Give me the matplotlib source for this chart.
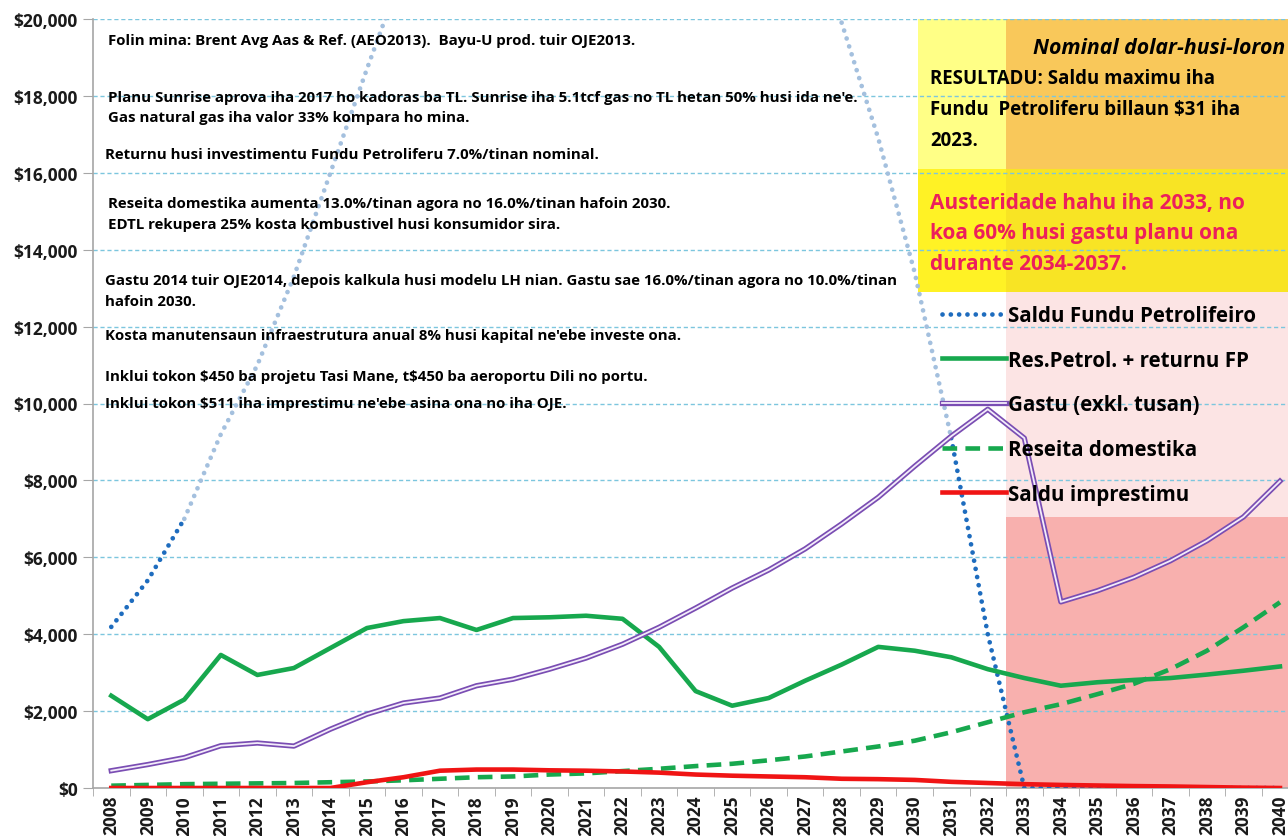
import matplotlib
matplotlib.use("Agg")
import matplotlib.pyplot as plt
import numpy as np
from matplotlib.patches import Rectangle
from matplotlib.lines import Line2D
from matplotlib.legend_handler import HandlerTuple
from matplotlib.ticker import FuncFormatter

plt.rcParams['font.family'] = ['Open Sans', 'DejaVu Sans']

# data (millions of nominal US$)
years = list(range(2008, 2041))
saldu_fp = [4190, 5400, 7000, 9200, 11000, 13300, 16000, 18700, 21300, 23800,
            26000, 27900, 29400, 30500, 31000, 31200, 30200, 28300, 25600, 22700,
            19900, 16900, 13400, 9100, 4000, 0, 0, 0, 0, 0, 0, 0, 0]
res_petrol = [2400, 1790, 2300, 3460, 2940, 3120, 3640, 4160, 4340, 4420,
              4110, 4420, 4440, 4480, 4400, 3670, 2520, 2140, 2340, 2790,
              3210, 3670, 3570, 3400, 3090, 2860, 2660, 2750, 2810, 2860,
              2950, 3050, 3160]
gastu = [450, 610, 790, 1100, 1170, 1090, 1530, 1920, 2210, 2340,
         2660, 2830, 3090, 3380, 3740, 4180, 4680, 5200, 5670, 6220,
         6870, 7560, 8370, 9150, 9850, 9100, 4840, 5130, 5480, 5910,
         6430, 7050, 7980]
reseita = [60, 80, 100, 110, 120, 130, 150, 170, 200, 240,
           280, 300, 350, 380, 440, 500, 570, 630, 720, 820,
           950, 1080, 1230, 1450, 1710, 1970, 2180, 2440, 2710, 3090,
           3570, 4180, 4830]
imprestimu = [0, 0, 0, 0, 0, 0, 0, 150, 280, 450,
              480, 480, 460, 450, 430, 400, 350, 320, 300, 280,
              240, 230, 210, 160, 130, 100, 80, 65, 50, 40,
              25, 10, 0]

labels = ["Saldu Fundu Petrolifeiro", "Res.Petrol. + returnu FP",
          "Gastu (exkl. tusan)", "Reseita domestika", "Saldu imprestimu"]

notes = [
    (108, 41, "Folin mina: Brent Avg Aas & Ref. (AEO2013).  Bayu-U prod. tuir OJE2013."),
    (108, 98, "Planu Sunrise aprova iha 2017 ho kadoras ba TL. Sunrise iha 5.1tcf gas no TL hetan 50% husi ida ne'e."),
    (108, 118, "Gas natural gas iha valor 33% kompara ho mina."),
    (105, 155, "Returnu husi investimentu Fundu Petroliferu 7.0%/tinan nominal."),
    (108, 204, "Reseita domestika aumenta 13.0%/tinan agora no 16.0%/tinan hafoin 2030."),
    (108, 225, "EDTL rekupera 25% kosta kombustivel husi konsumidor sira."),
    (105, 281, "Gastu 2014 tuir OJE2014, depois kalkula husi modelu LH nian. Gastu sae 16.0%/tinan agora no 10.0%/tinan"),
    (105, 302, "hafoin 2030."),
    (105, 336, "Kosta manutensaun infraestrutura anual 8% husi kapital ne'ebe investe ona."),
    (105, 377, "Inklui tokon $450 ba projetu Tasi Mane, t$450 ba aeroportu Dili no portu."),
    (105, 404, "Inklui tokon $511 iha imprestimu ne'ebe asina ona no iha OJE."),
]

W, H = 1288, 837


def px(x, y):
    return x / W, 1 - y / H


fig = plt.figure(figsize=(12.88, 8.37), dpi=100)
ax = fig.add_axes([93 / W, 1 - 789 / H, (W - 93) / W, (789 - 20) / H])
x = np.arange(len(years))
xmax = 32.22

# coloured background panels
panels = [
    (22.1, 24.5, 16100, 20000, '#FFFF86'),
    (24.5, xmax, 16100, 20000, '#F9C85A'),
    (22.1, 24.5, 12900, 16100, '#FFF225'),
    (24.5, xmax, 12900, 16100, '#F8E424'),
    (24.5, xmax, 7050, 12900, '#FCE4E4'),
    (24.5, xmax, 0, 7050, '#F8B0AE'),
]
for x0, x1, y0, y1, c in panels:
    ax.add_patch(Rectangle((x0, y0), x1 - x0, y1 - y0, facecolor=c,
                           edgecolor='none', zorder=0))

for lvl in range(2000, 20001, 2000):
    ax.axhline(lvl, color='#7CC6DE', lw=1, linestyle=(0, (3, 2)), zorder=1)

dot = (0, (0.01, 1.75))
light_blue = '#A4C0DE'
dark_blue = '#1E6CBE'
ax.plot(x[2:24], saldu_fp[2:24], color=light_blue, lw=3.4, linestyle=dot,
        dash_capstyle='round', zorder=3)
ax.plot(x[:3], saldu_fp[:3], color=dark_blue, lw=3.4, linestyle=dot,
        dash_capstyle='round', zorder=3)
ax.plot(x[23:], saldu_fp[23:], color=dark_blue, lw=3.4, linestyle=dot,
        dash_capstyle='round', zorder=3)

green = '#17A84E'
ax.plot(x, res_petrol, color=green, lw=3.3, zorder=4)
ax.plot(x, gastu, color='#7A4DB3', lw=3.8, zorder=4)
ax.plot(x, gastu, color='#F3ECFA', lw=1.3, zorder=4)
ax.plot(x, reseita, color=green, lw=3.3, linestyle=(0, (3.2, 1.8)), zorder=4)
ax.plot(x, imprestimu, color='#F01414', lw=3.3, zorder=5)

ax.set_yticks(range(0, 20001, 2000))
ax.yaxis.set_major_formatter(FuncFormatter(lambda v, p: f"${v:,.0f}"))
ax.set_xticks(x)
ax.set_xticklabels([str(y) for y in years], rotation=90)
ax.set_xticks(np.arange(-0.5, 32.0, 1), minor=True)
# limits after the ticks so they are not widened
ax.set_xlim(-0.5, xmax)
ax.set_ylim(0, 20000)
ax.tick_params(axis='x', which='major', length=0, pad=5, labelsize=12.5)
ax.tick_params(axis='x', which='minor', length=6, color='#A6A6A6')
ax.tick_params(axis='y', length=7, color='#A6A6A6', pad=4, labelsize=12.5)
for lab in ax.get_xticklabels() + ax.get_yticklabels():
    lab.set_fontweight('bold')
    lab.set_color('#1A1A1A')
for s in ['top', 'right']:
    ax.spines[s].set_visible(False)
for s in ['left', 'bottom']:
    ax.spines[s].set_color('#A6A6A6')
    ax.spines[s].set_linewidth(1.2)

for nx, ny, t in notes:
    fig.text(*px(nx, ny), t, fontsize=10.8, fontweight='bold', va='center',
             ha='left', parse_math=False)

fig.text(*px(1285, 48), "Nominal dolar-husi-loron", fontsize=15.3,
         fontweight='bold', style='italic', ha='right', va='center')
fig.text(*px(930, 110), "RESULTADU: Saldu maximu iha\nFundu  Petroliferu billaun $31 iha\n2023.",
         fontsize=13.4, fontweight='bold', ha='left', va='center',
         linespacing=1.72, parse_math=False)
fig.text(*px(930, 234), "Austeridade hahu iha 2033, no\nkoa 60% husi gastu planu ona\ndurante 2034-2037.",
         fontsize=15.0, fontweight='bold', color='#EC1F5C', ha='left',
         va='center', linespacing=1.6)

h_fp = Line2D([], [], color=dark_blue, lw=3.4, linestyle=dot, dash_capstyle='round')
h_rp = Line2D([], [], color=green, lw=3.3)
h_g1 = Line2D([], [], color='#7A4DB3', lw=3.8)
h_g2 = Line2D([], [], color='#F3ECFA', lw=1.3)
h_rd = Line2D([], [], color=green, lw=3.3, linestyle=(0, (3.2, 1.8)))
h_im = Line2D([], [], color='#F01414', lw=3.3)
leg = fig.legend([h_fp, h_rp, (h_g1, h_g2), h_rd, h_im], labels,
                 handler_map={tuple: HandlerTuple(ndivide=1)},
                 loc='upper left', bbox_to_anchor=px(942, 306),
                 frameon=False, fontsize=14.8, handlelength=3.1,
                 handletextpad=0.12, labelspacing=1.15, borderpad=0,
                 borderaxespad=0)
for t in leg.get_texts():
    t.set_fontweight('bold')

fig.savefig("out.png", dpi=100)
